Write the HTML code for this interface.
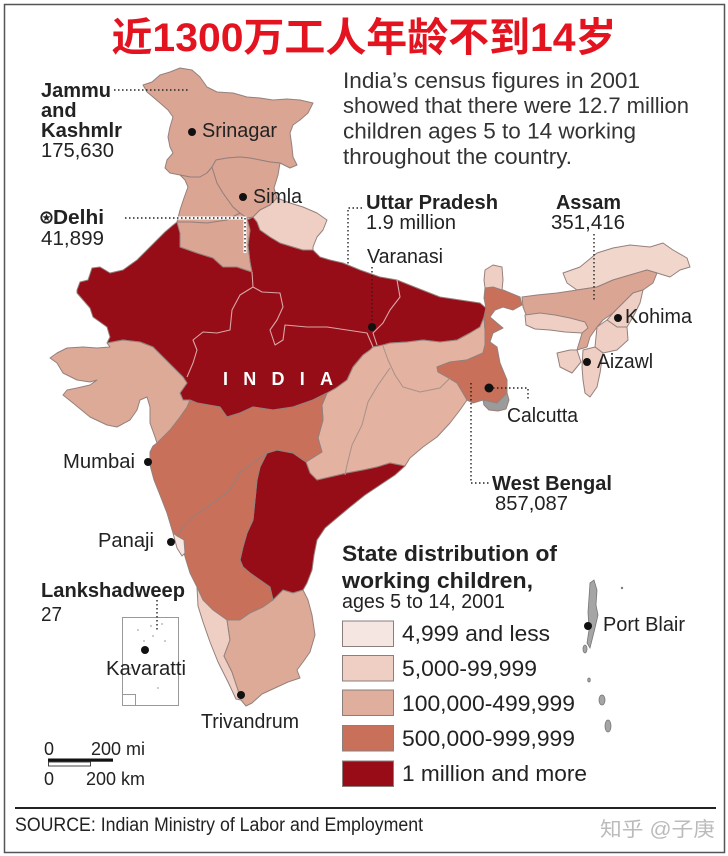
<!DOCTYPE html>
<html><head><meta charset="utf-8"><style>
html,body{margin:0;padding:0;background:#fff;}
svg{display:block;}
text{font-family:"Liberation Sans",Arial,sans-serif;}
</style></head><body>
<svg width="728" height="856" viewBox="0 0 728 856" xmlns="http://www.w3.org/2000/svg">
<rect width="728" height="856" fill="#fff"/>
<rect x="4.5" y="4.5" width="720" height="848" fill="none" stroke="#555" stroke-width="1.5"/>

<text x="364" y="51" text-anchor="middle" textLength="505" lengthAdjust="spacingAndGlyphs" font-size="40" font-weight="bold" fill="#e3141f" style="font-family:'Liberation Sans','Noto Sans CJK SC',sans-serif">近1300万工人年龄不到14岁</text>

<g stroke="#95807c" stroke-width="1" stroke-linejoin="round">
<!-- North dark red (Rajasthan, UP, MP, Bihar) -->
<polygon fill="#960c17" points="77,290 80,282 88,280 92,268 100,267 110,273 123,270 137,260 147,250 157,240 165,232 172,226 177,222 180,233 180,247 197,253 213,258 223,267 237,267 252,272 250,262 248,245 250,230 247,220 253,217 257,222 260,230 270,237 280,243 293,247 303,250 313,250 320,257 330,260 343,263 360,270 380,277 397,280 417,288 440,297 460,300 480,303 486,308 484,317 480,327 470,333 457,340 440,342 423,340 407,342 390,343 383,345 373,347 370,350 363,355 353,367 347,380 336,388 327,393 313,400 293,407 273,410 253,407 240,413 227,417 220,407 197,403 190,400 183,400 180,393 187,383 183,377 173,367 163,357 153,347 140,342 123,340 107,343 110,337 107,327 93,317 90,308 77,293"/>
<!-- Chhattisgarh/Jharkhand/Orissa -->
<polygon fill="#e3b2a1" points="327,393 336,388 347,380 353,367 363,355 370,350 373,347 383,345 390,343 407,342 423,340 440,342 457,340 470,333 480,327 484,317 485,330 485,345 483,353 467,360 450,362 437,367 438,372 447,377 457,383 463,393 467,400 460,410 450,423 437,437 423,447 410,458 405,466 390,463 377,467 363,470 347,473 330,477 317,480 310,473 306,462 322,452 318,438 323,420 322,405"/>
<!-- West Bengal -->
<polygon fill="#c8705a" points="485,288 493,287 503,290 520,297 522,305 513,310 503,307 495,310 490,317 497,323 503,328 493,333 490,342 497,347 500,363 507,380 507,393 497,403 483,400 473,403 467,400 463,393 457,383 447,377 438,372 437,367 450,362 467,360 483,353 485,345 485,330 484,317 486,308 484,298"/>
<polygon fill="#9b9b9b" points="483,400 497,403 507,393 509,400 506,409 498,411 489,410 484,405"/>
<!-- AP -->
<polygon fill="#960c17" points="267,453 277,450 293,453 303,460 306,462 310,473 317,480 330,477 347,473 363,470 377,467 390,463 405,466 395,475 380,485 365,495 350,507 338,517 325,528 317,540 314,555 312,570 307,583 303,590 293,593 283,590 273,600 270,587 260,580 250,573 243,567 240,560 243,547 247,533 253,520 255,500 257,480 260,467"/>
<!-- Maharashtra -->
<polygon fill="#c8705a" points="157,443 163,437 170,430 180,417 187,407 190,400 197,403 220,407 227,417 240,413 253,407 273,410 293,407 313,400 327,393 322,405 323,420 318,438 322,452 306,462 303,460 293,453 277,450 267,453 253,463 240,473 230,490 217,500 203,510 193,517 183,527 177,536 173,533 167,513 160,495 154,480 150,465 150,452 153,446"/>
<!-- Karnataka -->
<polygon fill="#c8705a" points="177,536 183,527 193,517 203,510 217,500 230,490 240,473 253,463 267,453 260,467 257,480 255,500 253,520 247,533 243,547 240,560 243,567 250,573 260,580 270,587 273,600 263,607 250,613 240,620 227,620 213,610 203,600 197,587 190,573 186,560 184,553"/>
<polygon fill="#f6e6e1" points="173,533 177,536 184,540 185,553 182,556 177,548"/>
<!-- Kerala -->
<polygon fill="#efcfc4" points="197,587 203,600 213,610 227,620 230,640 224,656 232,672 238,690 241,700 236,699 228,682 218,662 210,642 203,622 198,606"/>
<!-- TN -->
<polygon fill="#ddaa98" points="227,620 240,620 250,613 263,607 273,600 283,590 293,593 303,590 308,600 312,615 315,635 310,652 303,662 297,670 300,678 288,682 275,688 262,694 252,703 246,706 241,700 238,690 232,672 224,656 230,640"/>
<!-- Gujarat -->
<polygon fill="#ddaa98" points="50,358 57,353 67,348 83,347 97,348 110,347 107,343 123,340 140,342 153,347 163,357 173,367 183,377 187,383 180,393 183,400 190,400 187,407 180,417 170,430 163,437 157,443 155,437 150,423 150,407 147,397 140,400 137,410 130,420 117,427 107,425 90,417 73,403 63,395 67,390 77,388 90,385 97,380 90,382 77,380 63,373 57,363"/>
<!-- J&K -->
<polygon fill="#dba594" points="143,85 152,82 160,75 170,72 180,68 192,70 200,77 207,87 217,92 233,93 247,97 260,98 273,100 287,99 300,100 313,103 308,113 300,120 293,125 290,133 292,147 293,157 297,165 290,168 280,163 270,162 260,160 250,158 240,157 227,158 216,160 212,167 207,173 200,177 190,177 180,175 170,173 165,168 167,160 173,153 170,147 168,137 170,127 173,117 168,110 160,103 153,97 147,92"/>
<polygon fill="#dba594" points="180,175 190,177 200,177 207,173 212,167 217,183 223,193 233,207 240,213 227,220 207,223 190,222 177,222 180,210 184,198 188,187 185,180"/>
<polygon fill="#dba594" points="177,222 190,222 207,223 227,220 240,213 247,218 250,230 248,245 250,262 252,272 237,267 223,267 213,258 197,253 180,247 180,233"/>
<polygon fill="#dba594" points="212,167 216,160 227,158 240,157 250,158 260,160 270,162 280,163 278,175 274,188 277,198 270,205 260,210 253,217 247,218 240,213 233,207 223,193 217,183"/>
<polygon fill="#efcfc4" points="253,217 260,210 270,205 277,198 290,203 303,207 317,213 327,220 323,230 317,237 313,247 313,250 303,250 293,247 280,243 270,237 260,230 257,222"/>
<!-- NE -->
<polygon fill="#efcfc4" points="485,270 493,265 502,267 503,280 502,290 493,287 485,288 484,280"/>
<polygon fill="#f1d6cc" points="563,273 580,267 597,253 613,248 630,245 650,247 663,243 673,250 687,258 690,267 680,270 670,277 657,273 647,270 630,275 613,280 597,287 577,290 567,283"/>
<polygon fill="#dba594" points="522,297 537,295 557,293 577,290 597,287 613,280 630,275 647,270 657,273 653,283 643,290 633,293 623,303 613,313 603,320 597,327 590,337 587,347 577,350 580,340 583,330 577,325 567,322 553,320 537,318 527,317 523,307"/>
<polygon fill="#efcfc4" points="525,315 540,313 555,315 570,318 585,322 588,328 582,333 565,332 550,330 535,329 526,325"/>
<polygon fill="#efcfc4" points="623,303 633,293 643,290 640,303 633,317 627,327 617,327 607,320 613,313"/>
<polygon fill="#efcfc4" points="597,327 607,320 617,327 627,327 628,340 617,350 603,353 595,347"/>
<polygon fill="#efcfc4" points="583,350 595,347 603,353 600,373 597,387 590,397 585,393 583,380 582,367"/>
<polygon fill="#efcfc4" points="557,353 570,350 577,350 581,362 572,373 560,367"/>
</g>
<!-- internal boundaries -->
<g fill="none" stroke="#d9a6a6" stroke-width="1.1" stroke-linejoin="round">
<polyline points="253,287 240,295 232,310 230,330 217,333 203,332 193,340 197,350 193,363 187,377"/>
<polyline points="252,272 253,287 262,292 280,293 283,307 277,320 270,330 275,345 283,340 285,325 307,327 327,327 347,330 367,333 373,347"/>
<polyline points="397,280 400,297 390,310 383,323 373,333 377,345"/>
</g>
<g fill="none" stroke="#a8918a" stroke-width="1">
<polyline points="383,346 388,360 395,375 403,387 420,392 440,388 450,378"/>
<polyline points="390,368 378,385 368,402 362,425 352,445 347,465 345,475"/>
</g>

<!-- Andaman -->
<g fill="#a5a5a5" stroke="#777" stroke-width="0.8">
<polygon points="590,583 594,580 597,590 596,605 598,615 595,628 592,640 590,648 587,643 589,630 588,612 589,598"/>
<ellipse cx="585" cy="649" rx="2" ry="4"/>
<ellipse cx="589" cy="680" rx="1.3" ry="2"/>
<ellipse cx="602" cy="700" rx="3" ry="5"/>
<ellipse cx="608" cy="726" rx="3" ry="6"/>
<circle cx="622" cy="588" r="0.8"/>
</g>

<!-- Lakshadweep box -->
<rect x="122.5" y="617.5" width="56" height="88" fill="none" stroke="#999" stroke-width="1"/>
<rect x="122.5" y="694.5" width="13" height="11" fill="none" stroke="#999" stroke-width="1"/>
<g fill="#aaa"><circle cx="138" cy="630" r="0.9"/><circle cx="144" cy="641" r="0.9"/><circle cx="151" cy="626" r="0.9"/><circle cx="162" cy="624" r="0.9"/><circle cx="165" cy="641" r="0.9"/><circle cx="153" cy="636" r="0.9"/><circle cx="158" cy="688" r="0.9"/><circle cx="131" cy="668" r="0.9"/></g>

<!-- leader lines -->
<g fill="none" stroke="#fff" stroke-width="3">
<polyline points="125,218 245,218 245,253"/>
</g>
<g fill="none" stroke="#222" stroke-width="1.4" stroke-dasharray="1.5 2.5">
<line x1="114" y1="90" x2="188" y2="90"/>
<polyline points="125,218 245,218 245,253"/>
<polyline points="362,208 348,208 348,265"/>
<line x1="372" y1="267" x2="372" y2="322"/>
<line x1="594" y1="234" x2="594" y2="300"/>
<polyline points="493,388 528,388 528,399"/>
<polyline points="471,383 471,483 490,483"/>
<line x1="157" y1="600" x2="157" y2="630"/>
</g>

<!-- city dots -->
<g fill="#111">
<circle cx="192" cy="132" r="4"/><circle cx="243" cy="197" r="4"/><circle cx="372" cy="327" r="4"/>
<circle cx="618" cy="318" r="4"/><circle cx="587" cy="362" r="4"/><circle cx="489" cy="388" r="4.5"/>
<circle cx="148" cy="462" r="4"/><circle cx="171" cy="542" r="4"/><circle cx="145" cy="650" r="4"/>
<circle cx="241" cy="695" r="4"/><circle cx="588" cy="626" r="4"/>
</g>

<!-- Delhi symbol -->
<circle cx="46.5" cy="217.5" r="5.2" fill="#fff" stroke="#222" stroke-width="1.8"/>
<polygon points="46.5,213.5 47.6,216.3 50.4,216.4 48.2,218.2 49,221 46.5,219.4 44,221 44.8,218.2 42.6,216.4 45.4,216.3" fill="#222"/>

<!-- labels -->
<g fill="#222" font-size="20">
<text x="41" y="97" font-weight="bold" textLength="70" lengthAdjust="spacingAndGlyphs">Jammu</text>
<text x="41" y="117" font-weight="bold">and</text>
<text x="41" y="137" font-weight="bold" textLength="81" lengthAdjust="spacingAndGlyphs">Kashmlr</text>
<text x="41" y="157" textLength="73" lengthAdjust="spacingAndGlyphs">175,630</text>
<text x="202" y="137" textLength="75" lengthAdjust="spacingAndGlyphs">Srinagar</text>
<text x="253" y="203" textLength="49" lengthAdjust="spacingAndGlyphs">Simla</text>
<text x="53" y="224" font-weight="bold" textLength="51" lengthAdjust="spacingAndGlyphs">Delhi</text>
<text x="41" y="245" textLength="63" lengthAdjust="spacingAndGlyphs">41,899</text>
<text x="366" y="209" font-weight="bold" textLength="132" lengthAdjust="spacingAndGlyphs">Uttar Pradesh</text>
<text x="366" y="229" textLength="90" lengthAdjust="spacingAndGlyphs">1.9 million</text>
<text x="556" y="209" font-weight="bold" textLength="65" lengthAdjust="spacingAndGlyphs">Assam</text>
<text x="551" y="229" textLength="74" lengthAdjust="spacingAndGlyphs">351,416</text>
<text x="367" y="263" textLength="76" lengthAdjust="spacingAndGlyphs">Varanasi</text>
<text x="625" y="323" textLength="67" lengthAdjust="spacingAndGlyphs">Kohima</text>
<text x="597" y="368" textLength="56" lengthAdjust="spacingAndGlyphs">Aizawl</text>
<text x="507" y="422" textLength="71" lengthAdjust="spacingAndGlyphs">Calcutta</text>
<text x="63" y="468" textLength="72" lengthAdjust="spacingAndGlyphs">Mumbai</text>
<text x="98" y="547" textLength="56" lengthAdjust="spacingAndGlyphs">Panaji</text>
<text x="492" y="490" font-weight="bold" textLength="120" lengthAdjust="spacingAndGlyphs">West Bengal</text>
<text x="495" y="510" textLength="73" lengthAdjust="spacingAndGlyphs">857,087</text>
<text x="41" y="597" font-weight="bold" textLength="144" lengthAdjust="spacingAndGlyphs">Lankshadweep</text>
<text x="41" y="621" textLength="21" lengthAdjust="spacingAndGlyphs">27</text>
<text x="106" y="675" textLength="80" lengthAdjust="spacingAndGlyphs">Kavaratti</text>
<text x="201" y="728" textLength="98" lengthAdjust="spacingAndGlyphs">Trivandrum</text>
<text x="603" y="631" textLength="82" lengthAdjust="spacingAndGlyphs">Port Blair</text>
</g>
<text x="223" y="385" font-size="18" font-weight="bold" fill="#fff" textLength="110" lengthAdjust="spacing">INDIA</text>

<!-- intro -->
<g fill="#333" font-size="22">
<text x="343" y="88" textLength="297" lengthAdjust="spacingAndGlyphs">India’s census figures in 2001</text>
<text x="343" y="113" textLength="346" lengthAdjust="spacingAndGlyphs">showed that there were 12.7 million</text>
<text x="343" y="138.5" textLength="293" lengthAdjust="spacingAndGlyphs">children ages 5 to 14 working</text>
<text x="343" y="164" textLength="229" lengthAdjust="spacingAndGlyphs">throughout the country.</text>
</g>

<!-- scale bar -->
<g fill="#222" font-size="18">
<text x="44" y="755">0</text>
<text x="91" y="755" textLength="54" lengthAdjust="spacingAndGlyphs">200 mi</text>
<text x="44" y="785">0</text>
<text x="86" y="785" textLength="59" lengthAdjust="spacingAndGlyphs">200 km</text>
</g>
<rect x="48" y="758.5" width="65" height="3.2" fill="#111"/>
<rect x="48.5" y="762" width="42" height="4" fill="#fff" stroke="#333" stroke-width="0.9"/>

<!-- legend -->
<g fill="#222">
<text x="342" y="561" font-size="22" font-weight="bold" textLength="215" lengthAdjust="spacingAndGlyphs">State distribution of</text>
<text x="342" y="588" font-size="22" font-weight="bold" textLength="191" lengthAdjust="spacingAndGlyphs">working children,</text>
<text x="342" y="608" font-size="20" textLength="163" lengthAdjust="spacingAndGlyphs">ages 5 to 14, 2001</text>
</g>
<g stroke="#8a7f7d" stroke-width="1">
<rect x="342.5" y="621" width="51" height="25.5" fill="#f6e6e1"/>
<rect x="342.5" y="655.5" width="51" height="25.5" fill="#efcfc4"/>
<rect x="342.5" y="690" width="51" height="25.5" fill="#dfae9c"/>
<rect x="342.5" y="725.5" width="51" height="25.5" fill="#c8705a"/>
<rect x="342.5" y="761" width="51" height="25.5" fill="#980c17"/>
</g>
<g fill="#222" font-size="22.5">
<text x="402" y="641" textLength="148" lengthAdjust="spacingAndGlyphs">4,999 and less</text>
<text x="402" y="676" textLength="135" lengthAdjust="spacingAndGlyphs">5,000-99,999</text>
<text x="402" y="711" textLength="173" lengthAdjust="spacingAndGlyphs">100,000-499,999</text>
<text x="402" y="746" textLength="173" lengthAdjust="spacingAndGlyphs">500,000-999,999</text>
<text x="402" y="781" textLength="185" lengthAdjust="spacingAndGlyphs">1 million and more</text>
</g>

<!-- footer -->
<line x1="15" y1="808" x2="716" y2="808" stroke="#222" stroke-width="2"/>
<text x="15" y="831" font-size="19" fill="#222" textLength="408" lengthAdjust="spacingAndGlyphs">SOURCE: Indian Ministry of Labor and Employment</text>
<text x="600" y="836" font-size="20" fill="#bbb" textLength="115" lengthAdjust="spacingAndGlyphs" style="font-family:'Liberation Sans','Noto Sans CJK SC',sans-serif">知乎 @子庚</text>
</svg>
</body></html>
